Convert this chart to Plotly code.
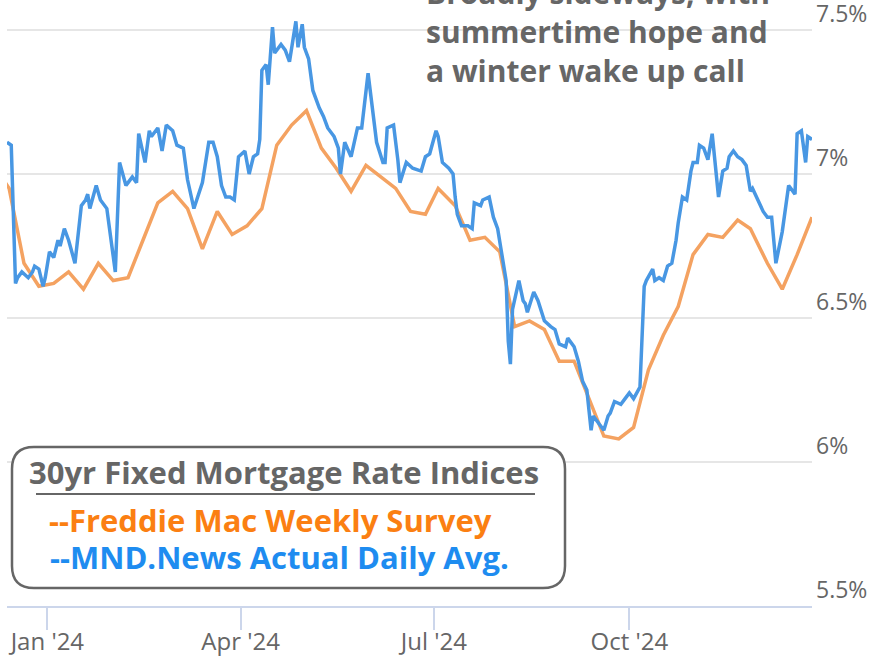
import plotly.graph_objects as go

# ---------------- data ----------------
mnd_dates = [
    "2023-12-13", "2023-12-15", "2023-12-17", "2023-12-18", "2023-12-20", "2023-12-23", "2023-12-25", "2023-12-26", "2023-12-28", "2023-12-30", "2023-12-31",
    "2024-01-02", "2024-01-04", "2024-01-06", "2024-01-07", "2024-01-09", "2024-01-11", "2024-01-14", "2024-01-17", "2024-01-19", "2024-01-20", "2024-01-21", "2024-01-24", "2024-01-26", "2024-01-29",
    "2024-02-02", "2024-02-04", "2024-02-07", "2024-02-08", "2024-02-10", "2024-02-12", "2024-02-13", "2024-02-16", "2024-02-18", "2024-02-19", "2024-02-21", "2024-02-22", "2024-02-24", "2024-02-26", "2024-02-29",
    "2024-03-02", "2024-03-05", "2024-03-07", "2024-03-10", "2024-03-12", "2024-03-14", "2024-03-17", "2024-03-19", "2024-03-21", "2024-03-23", "2024-03-25", "2024-03-27", "2024-03-29", "2024-03-31",
    "2024-04-03", "2024-04-05", "2024-04-07", "2024-04-09", "2024-04-10", "2024-04-11", "2024-04-13", "2024-04-14", "2024-04-16", "2024-04-17", "2024-04-20", "2024-04-22", "2024-04-24", "2024-04-27", "2024-04-28", "2024-04-30",
    "2024-05-01", "2024-05-03", "2024-05-05", "2024-05-08", "2024-05-10", "2024-05-12", "2024-05-15", "2024-05-17", "2024-05-18", "2024-05-20", "2024-05-23", "2024-05-25", "2024-05-26", "2024-05-28", "2024-05-31",
    "2024-06-02", "2024-06-04", "2024-06-07", "2024-06-08", "2024-06-09", "2024-06-12", "2024-06-14", "2024-06-15", "2024-06-18", "2024-06-21", "2024-06-25", "2024-06-27", "2024-06-29",
    "2024-07-02", "2024-07-03", "2024-07-05", "2024-07-08", "2024-07-10", "2024-07-11", "2024-07-12", "2024-07-14", "2024-07-17", "2024-07-19", "2024-07-20", "2024-07-23", "2024-07-24", "2024-07-27", "2024-07-29", "2024-07-31",
    "2024-08-02", "2024-08-04", "2024-08-05", "2024-08-06", "2024-08-07", "2024-08-10", "2024-08-12", "2024-08-13", "2024-08-14", "2024-08-17", "2024-08-19", "2024-08-21", "2024-08-22", "2024-08-25", "2024-08-27", "2024-08-29",
    "2024-09-01", "2024-09-02", "2024-09-05", "2024-09-07", "2024-09-09", "2024-09-11", "2024-09-13", "2024-09-14", "2024-09-16", "2024-09-19", "2024-09-21", "2024-09-22", "2024-09-24", "2024-09-27", "2024-09-29",
    "2024-10-01", "2024-10-03", "2024-10-05", "2024-10-06", "2024-10-08", "2024-10-09", "2024-10-12", "2024-10-13", "2024-10-15", "2024-10-17", "2024-10-19", "2024-10-21", "2024-10-23", "2024-10-24", "2024-10-26", "2024-10-28", "2024-10-30", "2024-10-31",
    "2024-11-02", "2024-11-03", "2024-11-05", "2024-11-07", "2024-11-09", "2024-11-10", "2024-11-12", "2024-11-14", "2024-11-16", "2024-11-17", "2024-11-19", "2024-11-21", "2024-11-23", "2024-11-25", "2024-11-27", "2024-11-28",
    "2024-12-01", "2024-12-03", "2024-12-05", "2024-12-07", "2024-12-09", "2024-12-11", "2024-12-12", "2024-12-15", "2024-12-17", "2024-12-18", "2024-12-19", "2024-12-21", "2024-12-23", "2024-12-24", "2024-12-26",
]
mnd_rates = [
    7.11, 7.10, 6.62, 6.64, 6.66, 6.64, 6.66, 6.68, 6.67, 6.61, 6.64,
    6.73, 6.71, 6.77, 6.75, 6.81, 6.77, 6.69, 6.89, 6.91, 6.93, 6.88, 6.96, 6.91, 6.88,
    6.66, 7.04, 6.96, 6.97, 6.99, 6.97, 7.14, 7.04, 7.15, 7.13, 7.15, 7.16, 7.08, 7.17, 7.15,
    7.10, 7.09, 6.98, 6.88, 6.93, 6.97, 7.11, 7.11, 7.06, 6.96, 6.92, 6.92, 6.91, 7.06,
    7.08, 7.00, 7.06, 7.07, 7.12, 7.36, 7.38, 7.31, 7.51, 7.42, 7.45, 7.43, 7.39, 7.53, 7.44, 7.52,
    7.44, 7.40, 7.29, 7.23, 7.20, 7.16, 7.13, 7.09, 7.00, 7.11, 7.06, 7.12, 7.16, 7.16, 7.35,
    7.23, 7.11, 7.04, 7.04, 7.16, 7.17, 7.05, 6.97, 7.04, 7.02, 7.01, 7.06, 7.07,
    7.15, 7.13, 7.04, 7.02, 7.00, 6.92, 6.86, 6.82, 6.82, 6.81, 6.90, 6.89, 6.91, 6.92, 6.85, 6.81,
    6.71, 6.63, 6.42, 6.34, 6.53, 6.63, 6.56, 6.55, 6.52, 6.59, 6.56, 6.51, 6.49, 6.47, 6.46, 6.41,
    6.40, 6.43, 6.40, 6.35, 6.28, 6.25, 6.11, 6.16, 6.14, 6.11, 6.16, 6.17, 6.21, 6.20, 6.22,
    6.24, 6.22, 6.25, 6.26, 6.61, 6.63, 6.67, 6.63, 6.64, 6.63, 6.68, 6.69, 6.77, 6.83, 6.92, 6.91, 7.01, 7.04,
    7.04, 7.10, 7.09, 7.05, 7.14, 7.06, 6.92, 7.01, 7.02, 7.06, 7.08, 7.06, 7.05, 7.03, 6.94, 6.95,
    6.90, 6.87, 6.85, 6.85, 6.69, 6.76, 6.80, 6.96, 6.94, 6.93, 7.14, 7.15, 7.04, 7.13, 7.12,
]

freddie_dates = [
    "2023-12-07", "2023-12-14", "2023-12-21", "2023-12-28",
    "2024-01-04", "2024-01-11", "2024-01-18", "2024-01-25",
    "2024-02-01", "2024-02-08", "2024-02-15", "2024-02-22", "2024-02-29",
    "2024-03-07", "2024-03-14", "2024-03-21", "2024-03-28",
    "2024-04-04", "2024-04-11", "2024-04-18", "2024-04-25",
    "2024-05-02", "2024-05-09", "2024-05-16", "2024-05-23", "2024-05-30",
    "2024-06-06", "2024-06-13", "2024-06-20", "2024-06-27",
    "2024-07-03", "2024-07-11", "2024-07-18", "2024-07-25",
    "2024-08-01", "2024-08-08", "2024-08-15", "2024-08-22", "2024-08-29",
    "2024-09-05", "2024-09-12", "2024-09-19", "2024-09-26",
    "2024-10-03", "2024-10-10", "2024-10-17", "2024-10-24", "2024-10-31",
    "2024-11-07", "2024-11-14", "2024-11-21", "2024-11-27",
    "2024-12-05", "2024-12-12", "2024-12-19", "2024-12-26",
]
freddie_rates = [
    7.03, 6.95, 6.69, 6.61,
    6.62, 6.66, 6.60, 6.69,
    6.63, 6.64, 6.77, 6.90, 6.94,
    6.88, 6.74, 6.87, 6.79,
    6.82, 6.88, 7.10, 7.17,
    7.22, 7.09, 7.02, 6.94, 7.03,
    6.99, 6.95, 6.87, 6.86,
    6.95, 6.89, 6.77, 6.78,
    6.73, 6.47, 6.49, 6.46, 6.35,
    6.35, 6.22, 6.09, 6.08,
    6.12, 6.32, 6.44, 6.54, 6.72,
    6.79, 6.78, 6.84, 6.81,
    6.69, 6.60, 6.72, 6.85,
]

x_tick_vals = ["2024-01-01", "2024-04-01", "2024-07-01", "2024-10-01"]
x_tick_text = ["Jan '24", "Apr '24", "Jul '24", "Oct '24"]
y_tick_vals = [5.5, 6.0, 6.5, 7.0, 7.5]
y_tick_text = ["5.5%", "6%", "6.5%", "7%", "7.5%"]

legend_title = "30yr Fixed Mortgage Rate Indices"
legend_freddie = "--Freddie Mac Weekly Survey"
legend_mnd = "--MND.News Actual Daily Avg."
note_text = "Broadly sideways, with<br>summertime hope and<br>a winter wake up call"

# ---------------- layout geometry (pixels) ----------------
W, H = 877, 658
ML, MR, MT, MB = 7, 65, 0, 52
PW, PH = W - ML - MR, H - MT - MB


def fx(px):
    return (px - ML) / PW


def fy(py):
    return (MT + PH - py) / PH


BLUE = "#4897e3"
ORANGE = "#f4a261"
GREY = "#666666"

fig = go.Figure()
fig.add_trace(go.Scatter(x=freddie_dates, y=freddie_rates, mode="lines",
                         line=dict(color=ORANGE, width=3.5), name="Freddie Mac"))
fig.add_trace(go.Scatter(x=mnd_dates, y=mnd_rates, mode="lines",
                         line=dict(color=BLUE, width=3.5), name="MND"))

# legend box (rounded)
x0, x1, y0, y1, r = 12, 565, 447, 588, 22
rx, ry = r / PW, r / PH
X0, X1, Y0, Y1 = fx(x0), fx(x1), fy(y1), fy(y0)
path = (f"M {X0+rx},{Y1} L {X1-rx},{Y1} Q {X1},{Y1} {X1},{Y1-ry} "
        f"L {X1},{Y0+ry} Q {X1},{Y0} {X1-rx},{Y0} L {X0+rx},{Y0} "
        f"Q {X0},{Y0} {X0},{Y0+ry} L {X0},{Y1-ry} Q {X0},{Y1} {X0+rx},{Y1} Z")
shapes = [
    dict(type="path", xref="paper", yref="paper", path=path,
         line=dict(color=GREY, width=2.5), fillcolor="white", layer="above"),
    dict(type="line", xref="paper", yref="paper", x0=fx(36), x1=fx(535),
         y0=fy(494), y1=fy(494), line=dict(color=GREY, width=2), layer="above"),
]

FONT_B = "Open Sans"
annotations = [
    dict(xref="paper", yref="paper", x=fx(27), y=fy(472), xanchor="left", yanchor="middle",
         text=f"<b>{legend_title}</b>", showarrow=False,
         font=dict(family=FONT_B, size=31, color=GREY)),
    dict(xref="paper", yref="paper", x=fx(47), y=fy(520), xanchor="left", yanchor="middle",
         text=f"<b>{legend_freddie}</b>", showarrow=False,
         font=dict(family=FONT_B, size=31, color="#fb7f12")),
    dict(xref="paper", yref="paper", x=fx(48), y=fy(557), xanchor="left", yanchor="middle",
         text=f"<b>{legend_mnd}</b>", showarrow=False,
         font=dict(family=FONT_B, size=31, color="#1e8cf0")),
    dict(xref="paper", yref="paper", x=fx(424), y=fy(32), xanchor="left", yanchor="middle",
         text=f"<b>{note_text}</b>", showarrow=False, align="left",
         font=dict(family=FONT_B, size=30, color=GREY)),
]

fig.update_layout(
    width=W, height=H,
    margin=dict(l=ML, r=MR, t=MT, b=MB, pad=0, autoexpand=False),
    paper_bgcolor="white", plot_bgcolor="white",
    showlegend=False,
    shapes=shapes, annotations=annotations,
    font=dict(family="Open Sans", color=GREY),
)
fig.update_xaxes(
    type="date", range=["2023-12-13", "2024-12-26"],
    tickvals=x_tick_vals, ticktext=x_tick_text,
    showgrid=False, zeroline=False, automargin=False,
    showline=True, linecolor="#ccd6eb", linewidth=2,
    ticks="outside", ticklen=22, tickcolor="#ccd6eb", tickwidth=1.5,
    ticklabelstandoff=-9,
    tickfont=dict(family="Open Sans", size=24, color=GREY),
)
fig.update_yaxes(
    range=[5.5, 7.5 + 30 / 288], side="right",
    tickvals=y_tick_vals, ticktext=y_tick_text,
    ticklabelposition="outside top", ticklabeloverflow="allow",
    ticklabelstandoff=3,
    showgrid=True, gridcolor="#e6e6e6", gridwidth=2,
    zeroline=False, showline=False, ticks="", automargin=False,
    tickfont=dict(family="Open Sans", size=23, color=GREY),
)

fig.write_html(
    "out.html",
    config={"displayModeBar": False},
    post_script="document.body.style.margin='0';document.body.style.overflow='hidden';",
)
